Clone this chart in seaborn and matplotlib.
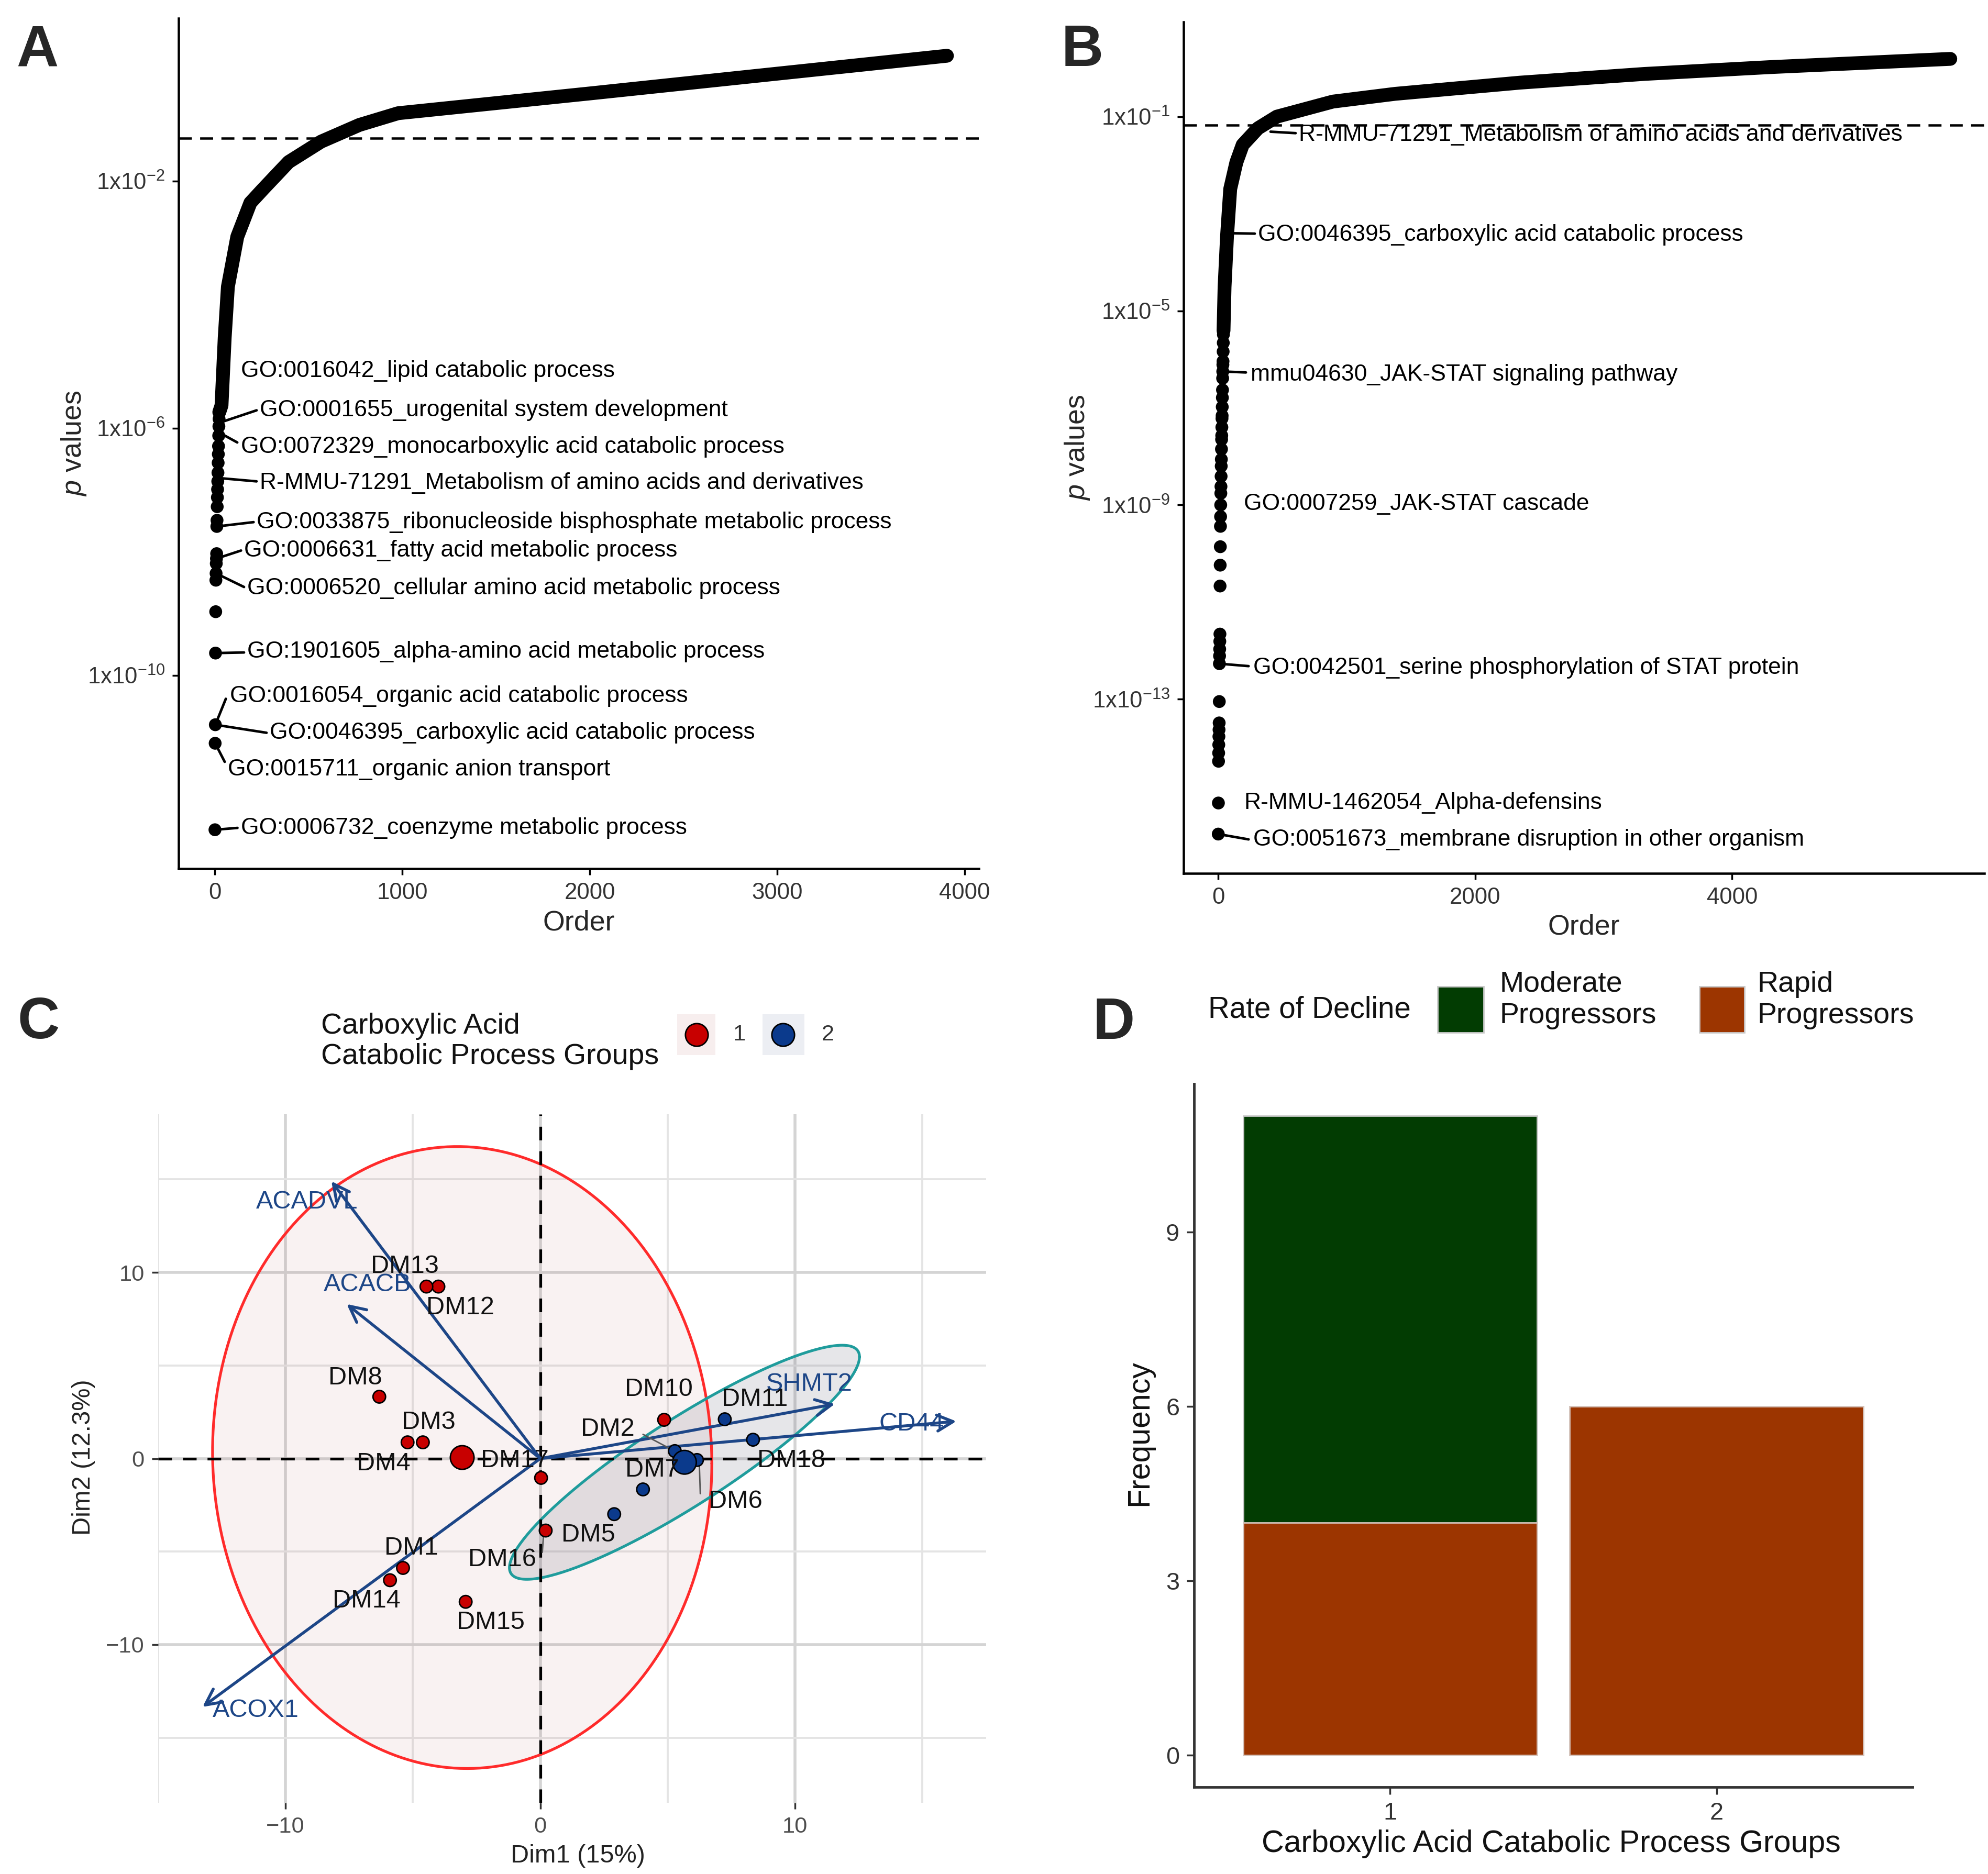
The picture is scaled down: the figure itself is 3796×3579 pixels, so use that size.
import numpy as np
import pandas as pd
import matplotlib
matplotlib.use("Agg")
import matplotlib.pyplot as plt
import seaborn as sns
from matplotlib.lines import Line2D
from matplotlib.patches import Rectangle
from matplotlib.ticker import NullLocator

# =====================================================
# DATA
# =====================================================
# panel A: ranked p values (log10), order 1 = smallest p
a_tail_log10p = [-12.50, -11.10, -10.80, -9.64, -8.97, -8.46, -8.35, -8.19, -8.11, -8.03,
                 -7.59, -7.49, -7.27, -7.12, -6.99, -6.86, -6.72, -6.56, -6.42, -6.29,
                 -6.12, -5.97, -5.85]
a_curve_order = [24, 36, 53, 70, 120, 190, 257, 394, 567, 771, 978, 2000, 3905]
a_curve_log10p = [-5.74, -5.63, -4.53, -3.71, -2.90, -2.35, -2.13, -1.69, -1.36, -1.09,
                  -0.90, -0.58, 0.03]
a_cutoff = 0.05
a_terms = [
    "GO:0016042_lipid catabolic process",
    "GO:0001655_urogenital system development",
    "GO:0072329_monocarboxylic acid catabolic process",
    "R-MMU-71291_Metabolism of amino acids and derivatives",
    "GO:0033875_ribonucleoside bisphosphate metabolic process",
    "GO:0006631_fatty acid metabolic process",
    "GO:0006520_cellular amino acid metabolic process",
    "GO:1901605_alpha-amino acid metabolic process",
    "GO:0016054_organic acid catabolic process",
    "GO:0046395_carboxylic acid catabolic process",
    "GO:0015711_organic anion transport",
    "GO:0006732_coenzyme metabolic process",
]
a_term_order = [30, 36, 36, 36, 11, 9, 7, 4, 3, 3, 2, 1]
a_term_log10p = [-5.68, -5.90, -6.09, -6.81, -7.59, -8.11, -8.35, -9.64, -10.80, -10.80,
                 -11.10, -12.50]

# panel B
b_tail_log10p = [-15.78, -15.14, -14.28, -14.11, -13.94, -13.77, -13.63, -13.49, -13.05, -12.27,
                 -12.11, -11.97, -11.81, -11.66, -10.67, -10.24, -9.86, -9.44, -9.24, -9.00,
                 -8.76, -8.62, -8.41, -8.20, -8.06, -7.85, -7.65, -7.57, -7.40, -7.22,
                 -7.16, -6.98, -6.79, -6.63, -6.39, -6.25, -6.11, -6.04, -5.84, -5.66, -5.49]
b_curve_order = [42, 50, 69, 94, 142, 191, 310, 457, 893, 1378, 2348, 3318, 4293, 5699]
b_curve_log10p = [-5.41, -4.51, -3.47, -2.49, -1.94, -1.58, -1.24, -1.00, -0.69, -0.53,
                  -0.30, -0.12, 0.02, 0.19]
b_cutoff = 0.066
b_terms = [
    "R-MMU-71291_Metabolism of amino acids and derivatives",
    "GO:0046395_carboxylic acid catabolic process",
    "mmu04630_JAK-STAT signaling pathway",
    "GO:0007259_JAK-STAT cascade",
    "GO:0042501_serine phosphorylation of STAT protein",
    "R-MMU-1462054_Alpha-defensins",
    "GO:0051673_membrane disruption in other organism",
]
b_term_order = [408, 69, 36, 20, 10, 2, 1]
b_term_log10p = [-1.31, -3.40, -6.25, -9.00, -12.27, -15.14, -15.78]

# panel C: PCA individuals and variables
c_samples = ["DM1", "DM2", "DM3", "DM4", "DM5", "DM6", "DM7", "DM8", "DM10",
             "DM11", "DM12", "DM13", "DM14", "DM15", "DM16", "DM17", "DM18"]
c_dim1 = [-5.39, 5.28, -4.61, -5.21, 2.90, 6.15, 4.03, -6.32, 4.86,
          7.24, -4.00, -4.47, -5.90, -2.93, 0.21, 0.03, 8.35]
c_dim2 = [-5.88, 0.40, 0.87, 0.87, -2.99, -0.08, -1.66, 3.32, 2.08,
          2.11, 9.24, 9.24, -6.54, -7.70, -3.87, -1.04, 1.01]
c_group = [1, 2, 1, 1, 2, 2, 2, 1, 1, 2, 1, 1, 1, 1, 1, 1, 2]
c_vars = ["ACADVL", "ACACB", "SHMT2", "CD44", "ACOX1"]
c_var_dim1 = [-8.2, -7.6, 11.56, 16.33, -13.26]
c_var_dim2 = [14.9, 8.3, 2.93, 2.00, -13.35]
# F(0.95, 2, df) quantiles for the 95% ellipses (df = n - 1)
f95 = {10: 4.103, 5: 5.786}

# panel D
d_groups = ["1", "2"]
d_rapid = [4, 6]
d_moderate = [7, 0]

# =====================================================
# STYLE
# =====================================================
sns.set_style("white")
plt.rcParams.update({
    "font.family": ["Liberation Sans", "DejaVu Sans"],
    "mathtext.fontset": "custom",
    "mathtext.rm": "Liberation Sans",
    "mathtext.it": "Liberation Sans:italic",
    "axes.unicode_minus": True,
})

W, H = 3796, 3579
fig = plt.figure(figsize=(W / 250, H / 250), dpi=250)


def fx(px):
    return px / W


def fy(py):
    return 1 - py / H


# =====================================================
# PANELS A / B
# =====================================================
def pval_panel(ax, tail, c_order, c_logp, cutoff, terms, t_order, t_logp,
               text_xy, seg_end, xlim, ylim, yexp, xticks, lab_x, lab_y):
    ax.set_yscale("log")
    tail_df = pd.DataFrame({"order": np.arange(1, len(tail) + 1),
                            "p": 10.0 ** np.array(tail)})
    curve_df = pd.DataFrame({"order": c_order, "p": 10.0 ** np.array(c_logp)})
    sns.lineplot(data=curve_df, x="order", y="p", color="black", lw=7.6,
                 sort=False, estimator=None, ax=ax,
                 solid_capstyle="round", solid_joinstyle="round")
    sns.scatterplot(data=tail_df, x="order", y="p", color="black", s=50,
                    edgecolor="none", ax=ax)
    ax.axhline(cutoff, color="black", lw=1.3, ls=(0, (5.5, 3.5)))

    for term, o, lp, txy, seg in zip(terms, t_order, t_logp, text_xy, seg_end):
        if seg is not None:
            ax.plot([o, seg[0]], [10.0 ** lp, 10.0 ** seg[1]], color="black", lw=1.4)
        ax.text(txy[0], 10.0 ** txy[1], term, ha="left", va="center",
                fontsize=12.8, color="black")

    ax.set_xlim(*xlim)
    ax.set_ylim(10.0 ** ylim[0], 10.0 ** ylim[1])
    ax.set_yticks([10.0 ** k for k in yexp])
    ax.set_yticklabels([rf"1x10$^{{{k}}}$" for k in yexp])
    ax.yaxis.set_minor_locator(NullLocator())
    ax.set_xticks(xticks)
    ax.set_xticklabels([str(t) for t in xticks])
    for s in ["top", "right"]:
        ax.spines[s].set_visible(False)
    for s in ["left", "bottom"]:
        ax.spines[s].set_color("black")
        ax.spines[s].set_linewidth(1.3)
    ax.tick_params(axis="both", which="major", direction="out", length=3.5,
                   width=1.0, color="black", labelsize=12.6, labelcolor="#333333",
                   pad=4, left=True, bottom=True)
    ax.set_xlabel("Order", fontsize=15.5)
    ax.set_ylabel(r"$\it{p}$ values", fontsize=15.5)
    ax.xaxis.set_label_coords(0.5, lab_x)
    ax.xaxis.label.set_verticalalignment("center")
    ax.yaxis.set_label_coords(lab_y, 0.5)
    ax.yaxis.label.set_verticalalignment("center")
    ax.yaxis.label.set_horizontalalignment("center")


ax_a = fig.add_axes([fx(341), fy(1659), fx(1528), 1624 / H])
pval_panel(
    ax_a, a_tail_log10p, a_curve_order, a_curve_log10p, a_cutoff,
    a_terms, a_term_order, a_term_log10p,
    text_xy=[(140, -5.07), (240, -5.71), (140, -6.30), (240, -6.89), (223, -7.52),
             (156, -7.98), (173, -8.59), (173, -9.62), (81, -10.34), (293, -10.93),
             (70, -11.52), (140, -12.47)],
    seg_end=[None, (223, -5.71), (120, -6.23), (223, -6.86), (207, -7.52),
             (140, -7.98), (156, -8.57), (156, -9.63), (59, -10.38), (276, -10.93),
             (53, -11.40), (121, -12.47)],
    xlim=(-193, 4075), ylim=(-13.13, 0.636), yexp=[-2, -6, -10],
    xticks=[0, 1000, 2000, 3000, 4000], lab_x=-0.064, lab_y=-0.131)

ax_b = fig.add_axes([fx(2260), fy(1668), fx(1529), 1626 / H])
pval_panel(
    ax_b, b_tail_log10p, b_curve_order, b_curve_log10p, b_cutoff,
    b_terms, b_term_order, b_term_log10p,
    text_xy=[(628, -1.38), (310, -3.43), (253, -6.31), (200, -8.98), (273, -12.36),
             (200, -15.14), (273, -15.89)],
    seg_end=[(603, -1.34), (285, -3.41), (216, -6.27), None, (237, -12.32),
             None, (237, -15.89)],
    xlim=(-269, 5964), ylim=(-16.59, 0.95), yexp=[-1, -5, -9, -13],
    xticks=[0, 2000, 4000], lab_x=-0.063, lab_y=-0.133)

# =====================================================
# PANEL C
# =====================================================
red, blue, navy = "#c80000", "#0b3a8c", "#1d4687"
ax_c = fig.add_axes([fx(302), fy(3443), fx(1581), 1315 / H])
pca_df = pd.DataFrame({"sample": c_samples, "Dim1": c_dim1, "Dim2": c_dim2,
                       "group": c_group})

ax_c.set_xlim(-14.9, 17.5)
ax_c.set_ylim(-18.5, 18.5)
ax_c.set_xticks([-10, 0, 10])
ax_c.set_yticks([-10, 0, 10])
ax_c.set_xticks([-15, -5, 5, 15], minor=True)
ax_c.set_yticks([-15, -5, 5, 15], minor=True)
ax_c.grid(True, which="major", color="#d4d4d4", lw=1.6)
ax_c.grid(True, which="minor", color="#e4e4e4", lw=1.1)
ax_c.set_axisbelow(True)

ell_style = {1: dict(face="#a03030", alpha=0.06, edge="#ff2b2b"),
             2: dict(face="#50506a", alpha=0.14, edge="#1f9c9c")}
theta = np.linspace(0, 2 * np.pi, 240)
circle = np.vstack([np.cos(theta), np.sin(theta)])
for g, sub in pca_df.groupby("group"):
    xy = sub[["Dim1", "Dim2"]].to_numpy()
    centre = xy.mean(axis=0)
    chol = np.linalg.cholesky(np.cov(xy.T))
    radius = np.sqrt(2 * f95[len(sub) - 1])
    pts = centre[:, None] + radius * chol @ circle
    st = ell_style[g]
    ax_c.fill(pts[0], pts[1], facecolor=st["face"], alpha=st["alpha"],
              edgecolor="none", zorder=1)
    ax_c.plot(pts[0], pts[1], color=st["edge"], lw=1.5, zorder=2)

ax_c.axhline(0, color="black", lw=1.5, ls=(0, (5, 4)), zorder=3)
ax_c.axvline(0, color="black", lw=1.5, ls=(0, (5, 4)), zorder=3)

for name, vx, vy in zip(c_vars, c_var_dim1, c_var_dim2):
    ax_c.annotate("", xy=(vx, vy), xytext=(0, 0),
                  arrowprops=dict(arrowstyle="->", color=navy, lw=1.6,
                                  mutation_scale=22, shrinkA=0, shrinkB=0),
                  zorder=4)
var_label_xy = [(-9.16, 13.8), (-6.78, 9.35), (10.55, 4.0), (14.57, 1.86), (-11.17, -13.52)]
for name, (lx, ly) in zip(c_vars, var_label_xy):
    ax_c.text(lx, ly, name, color=navy, fontsize=14, ha="center", va="center", zorder=6)

# repel segments
for (x0, y0), (x1, y1) in [((4.03, 1.3), (5.16, 0.48)), ((6.24, -0.2), (6.28, -1.89)),
                           ((0.13, -4.0), (0.08, -5.04))]:
    ax_c.plot([x0, x1], [y0, y1], color="#555555", lw=0.8, zorder=4)

sns.scatterplot(data=pca_df, x="Dim1", y="Dim2", hue="group",
                palette={1: red, 2: blue}, s=48, edgecolor="black", linewidth=0.8,
                legend=False, ax=ax_c, zorder=5)
cent = pca_df.groupby("group")[["Dim1", "Dim2"]].mean().reset_index()
sns.scatterplot(data=cent, x="Dim1", y="Dim2", hue="group",
                palette={1: red, 2: blue}, s=170, edgecolor="black", linewidth=0.8,
                legend=False, ax=ax_c, zorder=5)

sample_label_xy = [(-5.06, -4.82), (2.64, 1.58), (-4.39, 1.94), (-6.15, -0.28),
                   (1.89, -4.12), (7.67, -2.31), (4.4, -0.62), (-7.27, 4.34),
                   (4.65, 3.72), (8.42, 3.18), (-3.13, 8.11), (-5.31, 10.34),
                   (-6.82, -7.66), (-1.95, -8.82), (-1.5, -5.44), (-1.0, -0.1),
                   (9.85, -0.1)]
for name, (lx, ly) in zip(c_samples, sample_label_xy):
    ax_c.text(lx, ly, name, color="#111111", fontsize=14, ha="center", va="center",
              zorder=6)

for s in ax_c.spines.values():
    s.set_visible(False)
ax_c.tick_params(axis="both", which="major", length=3.5, width=1.0, color="#333333",
                 labelsize=12.5, labelcolor="#4d4d4d", pad=4, left=True, bottom=True)
ax_c.tick_params(axis="both", which="minor", length=0)
ax_c.set_xlabel("Dim1 (15%)", fontsize=14, color="#222222")
ax_c.set_ylabel("Dim2 (12.3%)", fontsize=14, color="#222222")
ax_c.xaxis.set_label_coords(0.507, -0.077)
ax_c.xaxis.label.set_verticalalignment("center")
ax_c.yaxis.set_label_coords(-0.09, 0.502)
ax_c.yaxis.label.set_verticalalignment("center")
ax_c.yaxis.label.set_horizontalalignment("center")

# legend C
fig.text(fx(613), fy(1989), "Carboxylic Acid\nCatabolic Process Groups", fontsize=16,
         ha="left", va="center", linespacing=1.15, color="#111111")
for x0, x1, bg, col, cx, lab, lx in [(1293, 1366, "#f7eeee", red, 1330, "1", 1412),
                                     (1456, 1536, "#eceef3", blue, 1495, "2", 1581)]:
    fig.add_artist(Rectangle((fx(x0), fy(2015)), fx(x1 - x0), 78 / H,
                             transform=fig.transFigure, facecolor=bg, edgecolor="none"))
    fig.add_artist(Line2D([fx(cx)], [fy(1976)], marker="o", markersize=12.5,
                          markerfacecolor=col, markeredgecolor="black",
                          markeredgewidth=0.8, transform=fig.transFigure))
    fig.text(fx(lx), fy(1976), lab, fontsize=12.5, ha="center", va="center",
             color="#333333")

# =====================================================
# PANEL D
# =====================================================
green, orange = "#023c02", "#9c3500"
ax_d = fig.add_axes([fx(2280), fy(3413), fx(1372), 1343 / H])
d_df = pd.DataFrame({"group": d_groups, "Rapid": d_rapid, "Moderate": d_moderate})
d_df["Total"] = d_df["Rapid"] + d_df["Moderate"]
sns.barplot(data=d_df, x="group", y="Total", color=green, saturation=1, width=0.9,
            errorbar=None, edgecolor="#c9c9c9", linewidth=0.8, ax=ax_d)
sns.barplot(data=d_df, x="group", y="Rapid", color=orange, saturation=1, width=0.9,
            errorbar=None, edgecolor="#d6c4bc", linewidth=0.8, ax=ax_d)
ax_d.set_xlim(-0.6, 1.6)
ax_d.set_ylim(-0.55, 11.55)
ax_d.set_yticks([0, 3, 6, 9])
for s in ["top", "right"]:
    ax_d.spines[s].set_visible(False)
for s in ["left", "bottom"]:
    ax_d.spines[s].set_color("#333333")
    ax_d.spines[s].set_linewidth(1.4)
ax_d.tick_params(axis="both", direction="out", length=4, width=1.0, color="#333333",
                 labelsize=13.5, labelcolor="#333333", pad=4, left=True, bottom=True)
ax_d.set_xlabel("Carboxylic Acid Catabolic Process Groups", fontsize=17, color="#111111")
ax_d.set_ylabel("Frequency", fontsize=17, color="#111111")
ax_d.xaxis.set_label_coords(0.497, -0.081)
ax_d.xaxis.label.set_verticalalignment("center")
ax_d.yaxis.set_label_coords(-0.076, 0.504)
ax_d.yaxis.label.set_verticalalignment("center")
ax_d.yaxis.label.set_horizontalalignment("center")

# legend D
fig.text(fx(2307), fy(1929), "Rate of Decline", fontsize=16.3, ha="left", va="center",
         color="#111111")
for x0, x1, col, lab, lx in [(2745, 2833, green, "Moderate\nProgressors", 2864),
                             (3245, 3331, orange, "Rapid\nProgressors", 3355)]:
    fig.add_artist(Rectangle((fx(x0), fy(1972)), fx(x1 - x0), 88 / H,
                             transform=fig.transFigure, facecolor=col,
                             edgecolor="#c9c9c9", linewidth=0.8))
    fig.text(fx(lx), fy(1910), lab, fontsize=16, ha="left", va="center",
             linespacing=1.2, color="#111111")

# =====================================================
# PANEL LETTERS
# =====================================================
for letter, x, y in [("A", 31, 126), ("B", 2027, 126), ("C", 34, 1983), ("D", 2087, 1984)]:
    fig.text(fx(x), fy(y), letter, fontsize=32, fontweight="bold", ha="left",
             va="baseline")

fig.savefig("out.png", dpi=250)
